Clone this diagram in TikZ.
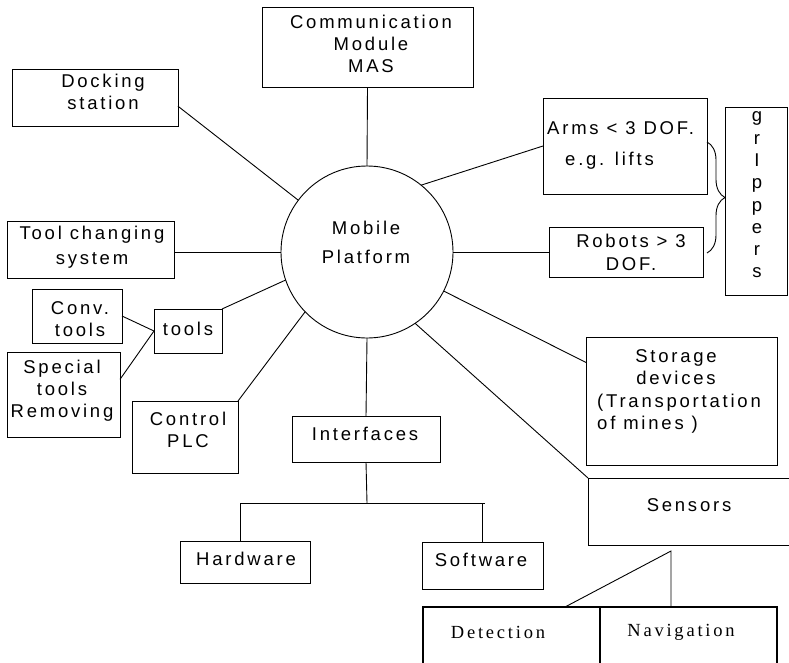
\documentclass[tikz,border=0pt]{standalone}
\usepackage{fontspec}
\setmainfont{Liberation Sans}[LetterSpace=15]
\newfontfamily\serifL{Liberation Serif}[LetterSpace=15]
\usetikzlibrary{calc,decorations.pathreplacing}
\newcommand\lf{\fontsize{18.5}{22}\selectfont}
\tikzset{
  box/.style={draw, line width=0.9pt, inner sep=0pt, outer sep=0pt},
  thickbox/.style={draw, line width=1.5pt, inner sep=0pt, outer sep=0pt},
  lbl/.style={inner sep=0pt, align=center, font=\lf},
  ln/.style={line width=0.9pt},
}
\begin{document}
\begin{tikzpicture}[x=1pt,y=-1pt]
\useasboundingbox (0,0) rectangle (789,662);
\clip (0,0) rectangle (789,662);

% boxes
\node[box, minimum width=211, minimum height=80] (comm) at (367.5,47) {};
\node[box, minimum width=166, minimum height=57] (dock) at (95,97.5) {};
\node[box, minimum width=167, minimum height=57] (toolch) at (90.5,249.5) {};
\node[box, minimum width=90, minimum height=54] (conv) at (77,316) {};
\node[box, minimum width=68, minimum height=44] (tools) at (188,331) {};
\node[box, minimum width=113, minimum height=85] (special) at (63.5,394.5) {};
\node[box, minimum width=106, minimum height=72] (control) at (185,437) {};
\node[box, minimum width=148, minimum height=46] (interf) at (366,439) {};
\node[box, minimum width=130, minimum height=42] (hard) at (245,562) {};
\node[box, minimum width=121, minimum height=47] (soft) at (482.5,565.5) {};
\node[box, minimum width=164, minimum height=96] (arms) at (625,146) {};
\node[box, minimum width=154, minimum height=50] (robots) at (626,252) {};
\node[box, minimum width=62, minimum height=188] (grip) at (756,201) {};
\node[box, minimum width=191, minimum height=128] (storage) at (681.5,401) {};
\node[box, minimum width=222, minimum height=67] (sensors) at (699,511.5) {};
\node[thickbox, minimum width=177, minimum height=93] (detect) at (511.5,653.5) {};
\node[thickbox, minimum width=177, minimum height=93] (navig) at (688.5,653.5) {};
\node[box, circle, minimum size=172] (mp) at (367,252) {};

% labels
\node[lbl] (commL) at (371,44.3) {Communication\\Module\\MAS};
\node[lbl] (dockL) at (103,92) {Docking\\station};
\node[lbl, font=\fontsize{18.5}{25}\selectfont] (toolL) at (92,247.5) {Tool changing\\system};
\node[lbl] (convL) at (80,319) {Conv.\\tools};
\node[lbl] (toolsL) at (188,329) {tools};
\node[lbl] (specL) at (62,391) {Special\\tools\\Removing};
\node[lbl] (ctrlL) at (188,430) {Control\\PLC};
\node[lbl] (intL) at (365,434) {Interfaces};
\node[lbl] (hardL) at (246,559) {Hardware};
\node[lbl] (softL) at (481,560) {Software};
\node[lbl, font=\fontsize{18.5}{29}\selectfont] (mpL) at (366,242.5) {Mobile\\Platform};
\node[lbl, anchor=west] (armsL1) at (547,128) {Arms < 3 DOF.};
\node[lbl, anchor=west] (armsL2) at (565,161) {e.g. lifts};
\node[lbl, font=\fontsize{18.5}{23}\selectfont] (robL) at (631,252.5) {Robots > 3\\DOF.};
\node[lbl, font=\fontsize{18.5}{22.3}\selectfont] (gripL) at (757,195) {g\\r\\I\\p\\p\\e\\r\\s};
\node[lbl] (storL1) at (676,367) {Storage\\devices};
\node[lbl, align=left, anchor=west] (storL2) at (597,413.5) {(Transportation\\of mines )};
\node[lbl] (sensL) at (689,505) {Sensors};
\node[lbl, font=\lf\serifL] (detL) at (498,632) {Detection};
\node[lbl, font=\lf\serifL] (navL) at (681,632) {Navigation};

% connectors
\draw[ln] (comm.south) -- (mp.north);
\draw[ln] (dock.-6.5) -- (mp.143);
\draw[ln] (mp.west) -- (mp.west -| toolch.east);
\draw[ln] (tools.north east) -- (mp.199);
\draw[ln] (conv.east) -- (tools.west);
\draw[ln] (special.15) -- (tools.west);
\draw[ln] (control.north east) -- (mp.224);
\draw[ln] (mp.south) -- (interf.north);
\coordinate (jn) at (367,503);
\coordinate (hn) at ($(hard.north)+(-5,0)$);
\coordinate (sn) at (soft.north);
\coordinate (se) at ($(soft.north)+(2,0)$);
\draw[ln] (interf.south) -- (jn);
\draw[ln] (hn) -- (hn |- jn) -- (se |- jn);
\draw[ln] (sn) -- (sn |- jn);
\draw[ln] (mp.51) -- (arms.west);
\draw[ln] (mp.east) -- (robots.west);
\draw[ln] (mp.-27) -- (storage.158);
\draw[ln] (mp.-56) -- (sensors.north west);
\coordinate (sv) at (671,551);
\coordinate (dt) at ($(detect.north east)+(-35,0)$);
\draw[ln] (dt) -- (sv) -- (sv |- navig.north);
\draw[ln, decorate, decoration={brace, amplitude=18pt}] (707,142) -- (707,253);
\end{tikzpicture}
\end{document}
